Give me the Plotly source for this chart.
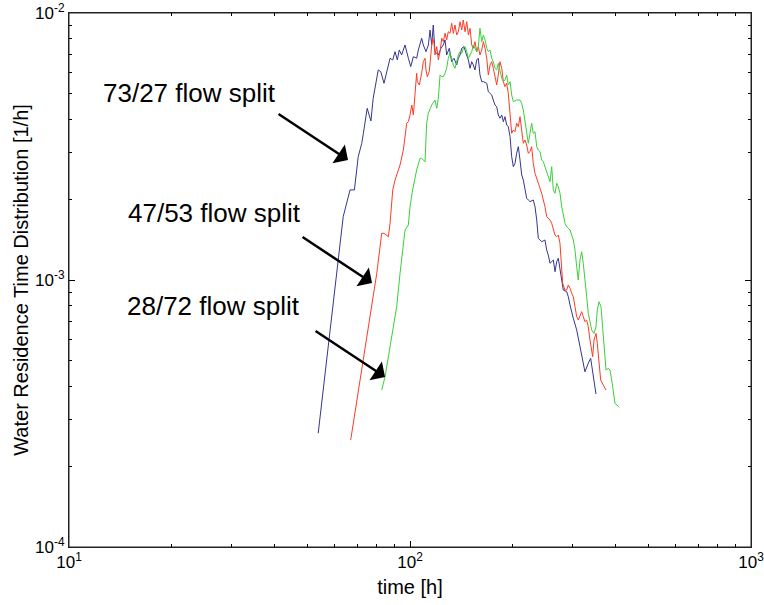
import numpy as np
import plotly.graph_objects as go

# ---- data (time in h, RTD values in units of 1e-3 1/h) ----
t_73_27 = [53.8, 63.7, 66.7, 68.7, 70.5, 72.2, 73.0, 74.9, 76.8, 78.0, 80.7, 82.1, 83.9, 85.8, 87.4, 89.0,
           90.4, 91.8, 93.0, 94.5, 96.7, 98.9, 100.5, 102.3, 104.6, 105.8, 108.2, 109.4, 111.4, 113.2, 114.5,
           115.8, 117.0, 118.4, 121.1, 123.3, 125.2, 126.7, 128.1, 130.4, 132.5, 134.6, 137.1, 138.6, 140.2,
           141.8, 144.0, 146.0, 148.3, 150.0, 151.7, 153.3, 155.1, 156.9, 158.6, 160.4, 162.3, 164.1, 167.9,
           169.7, 173.6, 175.5, 177.5, 179.6, 181.5, 183.6, 185.8, 187.8, 189.9, 192.1, 194.2, 196.5, 198.7,
           200.9, 203.2, 205.5, 207.8, 210.2, 212.6, 214.9, 217.4, 219.9, 222.3, 224.9, 229.9, 232.6, 235.3,
           237.8, 243.3, 248.8, 251.7, 254.4, 257.4, 260.3, 263.2, 266.2, 269.3, 272.2, 275.3, 278.5, 281.5,
           288.1, 291.2, 294.6, 298.0, 301.2, 308.2, 315.1, 318.8, 322.2, 325.9, 333.3, 338.7, 341.0, 344.7,
           351.1]
r_73_27 = [0.2666, 1.726, 2.174, 2.174, 2.896, 3.251, 3.544, 4.396, 3.940, 4.794, 6.119, 6.030, 5.456, 6.209,
           6.769, 6.670, 7.164, 6.670, 7.270, 6.964, 7.590, 6.769, 6.296, 6.862, 6.769, 7.270, 8.041, 7.590,
           7.164, 7.590, 8.637, 7.590, 9.017, 7.164, 6.964, 7.378, 7.590, 7.924, 6.964, 7.378, 6.573, 6.769,
           6.389, 6.769, 6.964, 7.378, 7.480, 7.066, 6.670, 6.209, 6.573, 6.389, 6.119, 6.670, 6.769, 5.861,
           5.532, 5.532, 5.456, 5.075, 4.932, 4.721, 4.522, 4.457, 4.150, 4.034, 4.150, 3.917, 4.089, 3.807,
           3.752, 3.442, 2.896, 2.657, 2.736, 2.982, 3.157, 2.815, 2.474, 2.369, 2.174, 2.023, 1.994, 1.965,
           1.994, 1.882, 1.678, 1.433, 1.391, 1.412, 1.295, 1.240, 1.155, 1.171, 1.188, 1.074, 1.171, 1.206,
           1.090, 1.000, 0.917, 0.904, 0.866, 0.806, 0.750, 0.719, 0.650, 0.563, 0.531, 0.488, 0.453, 0.488,
           0.509, 0.480, 0.434, 0.374]

t_47_53 = [67.0, 74.6, 79.9, 82.6, 83.9, 86.4, 87.4, 89.0, 90.4, 93.5, 95.6, 97.8, 98.9, 100.0, 101.2, 102.3,
           103.4, 104.6, 105.1, 106.5, 108.2, 109.4, 110.7, 111.4, 112.4, 113.9, 115.8, 116.6, 117.6, 118.4,
           119.8, 121.1, 122.5, 123.9, 125.2, 126.7, 128.1, 129.5, 131.0, 132.5, 134.0, 135.5, 137.1, 138.6,
           140.2, 141.8, 143.3, 145.0, 146.7, 148.3, 150.0, 151.7, 153.3, 155.1, 156.9, 158.6, 160.4, 162.3,
           164.1, 166.0, 167.9, 169.7, 171.7, 173.6, 175.5, 177.5, 179.6, 181.5, 183.6, 185.8, 187.8, 189.9,
           192.1, 194.2, 196.5, 198.7, 200.9, 203.2, 205.5, 207.8, 210.2, 212.6, 214.9, 217.4, 219.9, 222.3,
           224.9, 227.4, 229.9, 232.6, 235.3, 237.8, 240.6, 243.3, 246.0, 248.8, 251.7, 254.4, 257.4, 260.3,
           263.2, 266.2, 269.3, 272.2, 275.3, 278.5, 280.4, 284.8, 288.1, 291.2, 294.6, 298.0, 301.2, 304.7,
           308.2, 311.5, 315.1, 318.8, 322.2, 325.9, 329.7, 333.3, 337.1, 341.0, 343.3, 346.4, 351.1, 354.2,
           359.0, 362.4, 368.9, 375.7]
r_47_53 = [0.2517, 0.596, 1.059, 1.496, 1.496, 1.453, 1.631, 2.174, 2.369, 2.696, 3.068, 3.864, 3.917, 4.150,
           4.522, 4.150, 5.075, 5.947, 5.532, 5.377, 5.947, 6.573, 6.769, 6.119, 5.775, 6.030, 7.590, 8.041,
           7.702, 6.964, 7.480, 6.670, 7.164, 8.041, 7.809, 8.395, 7.924, 8.511, 8.395, 9.150, 8.395, 9.017,
           8.273, 8.511, 9.278, 8.637, 9.414, 8.511, 9.278, 8.273, 8.764, 7.590, 7.378, 7.809, 7.164, 7.480,
           6.964, 7.270, 7.809, 7.378, 6.769, 5.861, 6.389, 6.573, 6.209, 5.775, 5.377, 5.861, 6.573, 6.209,
           5.532, 5.298, 5.456, 5.005, 4.211, 3.544, 3.647, 3.594, 3.864, 3.752, 4.089, 3.544, 3.251, 3.345,
           3.204, 2.982, 3.024, 3.157, 2.736, 2.510, 2.404, 2.303, 2.236, 2.113, 1.994, 1.882, 1.726, 1.702,
           1.678, 1.631, 1.539, 1.474, 1.453, 1.474, 1.372, 1.121, 0.972, 0.917, 0.917, 0.958, 0.931, 0.892,
           0.866, 0.794, 0.729, 0.708, 0.729, 0.761, 0.729, 0.698, 0.708, 0.668, 0.596, 0.555, 0.516, 0.596,
           0.631, 0.579, 0.488, 0.422, 0.404, 0.387]

t_28_72 = [82.6, 84.5, 87.4, 91.4, 93.5, 95.6, 96.7, 98.9, 100.0, 101.8, 104.6, 107.0, 108.2, 110.7, 111.9,
           113.2, 115.8, 118.4, 119.8, 121.1, 122.5, 123.9, 125.2, 126.7, 128.1, 129.5, 131.0, 132.5, 134.0,
           135.5, 137.1, 138.6, 140.2, 141.8, 143.3, 145.0, 146.7, 148.3, 150.0, 151.7, 153.3, 155.1, 156.9,
           158.6, 160.4, 162.3, 164.1, 166.0, 167.9, 169.7, 171.7, 173.6, 175.5, 177.5, 179.6, 181.5, 183.6,
           185.8, 187.8, 189.9, 192.1, 194.2, 196.5, 198.7, 200.9, 205.5, 210.2, 212.6, 214.9, 217.4, 219.9,
           222.3, 224.9, 227.4, 229.9, 232.6, 235.3, 237.8, 240.6, 243.3, 246.0, 248.8, 251.7, 254.4, 257.4,
           260.3, 263.2, 266.2, 269.3, 272.2, 275.3, 278.5, 281.5, 284.8, 288.1, 294.6, 301.2, 304.7, 308.2,
           311.5, 315.1, 318.8, 322.2, 325.9, 329.7, 333.3, 337.1, 341.0, 346.4, 351.1, 354.2, 358.3, 363.2,
           367.4, 371.4, 375.7, 381.5, 385.9, 390.4, 394.6, 399.2, 411.0]
r_28_72 = [0.387, 0.434, 0.563, 0.794, 1.059, 1.412, 1.539, 1.607, 1.882, 2.174, 2.582, 2.856, 2.856, 2.774,
           3.864, 4.211, 4.522, 4.721, 4.396, 4.794, 5.861, 5.775, 5.775, 5.947, 6.209, 6.769, 7.066, 6.769,
           6.389, 6.209, 6.573, 6.964, 7.164, 7.066, 7.378, 7.480, 7.164, 6.769, 6.964, 7.164, 7.590, 7.378,
           7.164, 7.480, 8.764, 7.809, 8.273, 7.924, 7.378, 7.164, 7.270, 6.769, 6.573, 6.209, 6.119, 6.483,
           6.030, 5.696, 5.532, 5.613, 5.861, 5.377, 5.532, 4.932, 4.653, 4.721, 4.721, 4.589, 4.333, 3.975,
           3.647, 3.251, 3.544, 3.864, 3.544, 3.594, 3.157, 3.068, 3.024, 2.815, 2.774, 2.657, 2.582, 2.437,
           2.334, 2.657, 2.174, 2.113, 2.303, 2.236, 2.113, 1.882, 1.777, 1.631, 1.583, 1.539, 1.412, 1.295,
           1.121, 1.000, 1.188, 1.276, 1.155, 0.972, 0.866, 0.750, 0.689, 0.650, 0.631, 0.668, 0.772, 0.829,
           0.794, 0.668, 0.547, 0.460, 0.467, 0.460, 0.422, 0.376, 0.345, 0.334]

series_names = ["73/27 flow split", "47/53 flow split", "28/72 flow split"]
series_colors = ["#353590", "#ff3a24", "#39d039"]

x_tickvals = [10, 100, 1000]
x_ticktext = ["10<sup>1</sup>", "10<sup>2</sup>", "10<sup>3</sup>"]
y_tickvals = [1e-4, 1e-3, 1e-2]
y_ticktext = ["10<sup>-4</sup>", "10<sup>-3</sup>", "10<sup>-2</sup>"]

# arrow tips (time, value) and label centres (time, value)
label_tips = [(65.8, 2.815e-3), (77.4, 0.974e-3), (84.5, 4.33e-4)]
label_pos = [(22.6, 5.02e-3), (26.8, 1.78e-3), (26.6, 7.99e-4)]

FONT = "Liberation Sans, Arial, sans-serif"

fig = go.Figure()
for t, r, name, col in zip([t_73_27, t_47_53, t_28_72], [r_73_27, r_47_53, r_28_72],
                           series_names, series_colors):
    fig.add_trace(go.Scatter(x=t, y=np.array(r) * 1e-3, mode="lines", name=name,
                             line=dict(color=col, width=1), showlegend=False))

for (tx, ty), (lx, ly), name in zip(label_tips, label_pos, series_names):
    fig.add_annotation(x=np.log10(lx), y=np.log10(ly), xref="x", yref="y", text=name,
                       showarrow=False, font=dict(family=FONT, size=26, color="black"))
    fig.add_annotation(x=np.log10(tx), y=np.log10(ty), xref="x", yref="y", text="",
                       showarrow=True, arrowhead=1, arrowsize=1.5, arrowwidth=2.5,
                       arrowcolor="black", ax=-71, ay=-47, standoff=0)

# axes box frame
fig.add_shape(type="rect", xref="paper", yref="paper", x0=0, y0=0, x1=1, y1=1,
              line=dict(color="#222", width=1), layer="above")

minor_vals = [m * 10 ** e for e in (1, 2) for m in range(2, 10)]
minor_y = [m * 10 ** e for e in (-4, -3) for m in range(2, 10)]

fig.update_xaxes(type="log", range=[1, 3], tickvals=x_tickvals, ticktext=x_ticktext,
                 ticks="inside", ticklen=6, tickcolor="black", showline=True, linecolor="#222",
                 linewidth=1, mirror="allticks", showgrid=False, zeroline=False, automargin=False,
                 ticklabeloverflow="allow",
                 minor=dict(tickvals=minor_vals, ticks="inside", ticklen=3, tickcolor="black", showgrid=False),
                 tickfont=dict(family=FONT, size=17, color="black"),
                 title=dict(text="time [h]", font=dict(family=FONT, size=20, color="black"), standoff=8))
fig.update_yaxes(type="log", range=[-4, -2], tickvals=y_tickvals, ticktext=y_ticktext,
                 ticks="inside", ticklen=6, tickcolor="black", showline=True, linecolor="#222",
                 linewidth=1, mirror="allticks", showgrid=False, zeroline=False, automargin=False,
                 ticklabeloverflow="allow",
                 minor=dict(tickvals=minor_y, ticks="inside", ticklen=3, tickcolor="black", showgrid=False),
                 tickfont=dict(family=FONT, size=17, color="black"),
                 title=dict(text="Water Residence Time Distribution [1/h]",
                            font=dict(family=FONT, size=20, color="black"), standoff=1))

fig.update_layout(width=764, height=605, margin=dict(l=69, r=13, t=13, b=58, autoexpand=False),
                  paper_bgcolor="white", plot_bgcolor="white",
                  font=dict(family=FONT, color="black"))

# remove the browser's default 8px page margin so the figure fills the window exactly
fig.write_html("out.html", config={"displayModeBar": False},
               post_script="document.body.style.margin='0px';document.body.style.overflow='hidden';")
